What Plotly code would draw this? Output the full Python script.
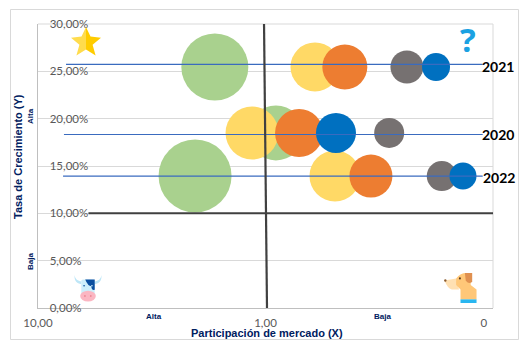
import base64
import plotly.graph_objects as go

# Bubble data, order: 2021, 2020, 2022
years = ["2021", "2020", "2022"]
y_series = [25.46, 18.49, 13.94]
green_x = [1.67, 0.90, 2.04]
green_s = [67, 55, 73]
yellow_x = [0.606, 1.146, 0.495]
yellow_s = [49, 53, 51]
orange_x = [0.448, 0.712, 0.344]
orange_s = [45, 48, 43]
gray_x = [0.239, 0.286, 0.168]
gray_s = [33, 30, 30]
blue_x = [0.178, 0.49, 0.1355]
blue_s = [28, 40, 27]

# Reference lines
year_line_y = [25.74, 18.33, 13.94]
year_line_x = [[7.53, 0.111], [7.69, 0.111], [7.76, 0.111]]
v_line_x = [1.015, 0.985]
v_line_y = [30, 0]
h_line_x = [6.0, 0.1]
h_line_y = [10, 10]

y_ticks = [0, 5, 10, 15, 20, 25, 30]
y_labels = ["0,00%", "5,00%", "10,00%", "15,00%", "20,00%", "25,00%", "30,00%"]
x_ticks = [10, 1, 0.1096]
x_labels = ["10,00", "1,00", "0"]

W, H = 532, 352
L, R, T, B = 38, 493, 24, 308


def px(x):
    return (x - L) / (R - L)


def py(y):
    return (B - y) / (B - T)


def uri(svg):
    return "data:image/svg+xml;base64," + base64.b64encode(svg.encode()).decode()


star = """<svg xmlns='http://www.w3.org/2000/svg' viewBox='0 0 100 100'>
<polygon points='50,0 50,78 18,98 28,61 0,37 35,33' fill='#FFDC4D'/>
<polygon points='50,0 50,78 82,98 72,61 100,37 65,33' fill='#FFCC00'/></svg>"""
cow = """<svg xmlns='http://www.w3.org/2000/svg' viewBox='0 0 100 100'>
<path d='M2,0 C4,16 14,22 26,24 L26,34 C10,32 0,20 2,0Z' fill='#BDE6F7'/>
<path d='M98,0 C96,16 86,22 74,24 L74,34 C90,32 100,20 98,0Z' fill='#BDE6F7'/>
<rect x='26' y='17' width='48' height='60' rx='6' fill='#CDEFFB'/>
<path d='M40,17 H74 V55 Q62,58 62,42 Q50,42 40,17Z' fill='#0A4FA0'/>
<circle cx='36' cy='40' r='3' fill='#0A4FA0'/><circle cx='64' cy='40' r='3' fill='#CDEFFB'/>
<ellipse cx='50' cy='78' rx='28' ry='20' fill='#FBB6C2'/>
<circle cx='39' cy='78' r='3' fill='#E5707F'/><circle cx='60' cy='78' r='3' fill='#E5707F'/></svg>"""
dog = """<svg xmlns='http://www.w3.org/2000/svg' viewBox='0 0 120 100'>
<path d='M5,25 L45,18 L55,55 L30,55 Q15,50 5,25Z' fill='#FFE0B2'/>
<path d='M45,18 Q60,0 80,0 L95,0 L95,40 L115,55 L115,88 L60,88 L60,55 L45,40Z' fill='#FFC778'/>
<path d='M75,0 H100 V30 Q85,38 78,25Z' fill='#E0904F'/>
<circle cx='58' cy='18' r='3.5' fill='#5A3A1E'/><circle cx='8' cy='25' r='4' fill='#8A5A2E'/>
<rect x='60' y='88' width='55' height='12' fill='#29B6F0'/></svg>"""


def icon(svg, x0, y0, x1, y1):
    return dict(source=uri(svg), xref="paper", yref="paper", x=px(x0), y=py(y0),
                sizex=(x1 - x0) / (R - L), sizey=(y1 - y0) / (B - T),
                xanchor="left", yanchor="top", sizing="stretch", layer="above")


fig = go.Figure()
for xs, ss, color in [
    (green_x, green_s, "#A9D18E"),
    (yellow_x, yellow_s, "#FFD966"),
    (orange_x, orange_s, "#ED7D31"),
    (gray_x, gray_s, "#767171"),
    (blue_x, blue_s, "#0070C0"),
]:
    fig.add_trace(go.Scatter(x=xs, y=y_series, mode="markers",
                             marker=dict(size=ss, color=color, opacity=1, line=dict(width=0))))
for lx, ly in zip(year_line_x, year_line_y):
    fig.add_trace(go.Scatter(x=lx, y=[ly, ly], mode="lines", line=dict(color="#3A6BBF", width=1.2)))
fig.add_trace(go.Scatter(x=h_line_x, y=h_line_y, mode="lines", line=dict(color="#404040", width=2), cliponaxis=False))
fig.add_trace(go.Scatter(x=v_line_x, y=v_line_y, mode="lines", line=dict(color="#404040", width=2.2)))

navy = "#002060"
ann = [
    dict(text="Tasa de Crecimiento (Y)", x=px(18), y=py(157), textangle=-90,
         font=dict(family="Liberation Sans", size=11, color=navy, weight="bold")),
    dict(text="Participación de mercado (X)", x=px(266.5), y=py(333),
         font=dict(family="Liberation Sans", size=11, color=navy, weight="bold")),
    dict(text="Alta", x=px(30), y=py(116), textangle=-90,
         font=dict(family="Liberation Sans", size=8, color=navy, weight="bold")),
    dict(text="Baja", x=px(30), y=py(262), textangle=-90,
         font=dict(family="Liberation Sans", size=8, color=navy, weight="bold")),
    dict(text="Alta", x=px(154), y=py(316.5),
         font=dict(family="Liberation Sans", size=8, color=navy, weight="bold")),
    dict(text="Baja", x=px(382), y=py(316),
         font=dict(family="Liberation Sans", size=8, color=navy, weight="bold")),
    dict(text="?", x=px(467.5), y=py(39),
         font=dict(family="Open Sans", size=33, color="#1BA1E2", weight="bold")),
]
for label, lx, ly in zip(years, [498, 498, 499], [66, 134, 177]):
    ann.append(dict(text=label, x=px(lx), y=py(ly),
                    font=dict(family="Lato", size=14, color="#000000", weight="bold")))
for a in ann:
    a.update(xref="paper", yref="paper", showarrow=False, xanchor="center", yanchor="middle")

fig.update_layout(
    width=W, height=H, showlegend=False,
    paper_bgcolor="white", plot_bgcolor="white",
    margin=dict(l=L, r=W - R, t=T, b=H - B, pad=0),
    xaxis=dict(type="log", range=[1, -1], tickvals=x_ticks, ticktext=x_labels,
               showgrid=False, zeroline=False, showline=True, linecolor="#BFBFBF", linewidth=1,
               ticks="outside", ticklen=4, tickcolor="rgba(0,0,0,0)", ticklabeloverflow="allow",
               tickfont=dict(family="Lato", size=11.5, color="#595959")),
    yaxis=dict(range=[0, 30], tickvals=y_ticks, ticktext=y_labels,
               showgrid=True, gridcolor="#D9D9D9", gridwidth=1, zeroline=False,
               showline=True, linecolor="#BFBFBF", linewidth=1,
               ticks="inside", ticklen=11, tickcolor="rgba(0,0,0,0)", ticklabelposition="inside",
               ticklabeloverflow="allow",
               tickfont=dict(family="Lato", size=11.5, color="#595959")),
    annotations=ann,
    images=[icon(star, 71, 27, 101, 56), icon(cow, 74, 275, 102, 302), icon(dog, 443, 273, 478, 303)],
    shapes=[
        dict(type="rect", xref="paper", yref="paper", x0=px(10.5), x1=px(518.5), y0=py(339.5), y1=py(9.5),
             line=dict(color="#D9D9D9", width=1), layer="above"),
        dict(type="line", xref="paper", yref="paper", x0=1, x1=1, y0=0, y1=1,
             line=dict(color="#D9D9D9", width=1), layer="below"),
        dict(type="line", xref="paper", yref="paper", x0=0, x1=1, y0=1, y1=1,
             line=dict(color="#D9D9D9", width=1), layer="below"),
    ],
)
fig.write_html("out.html", config=dict(displayModeBar=False), post_script="document.body.style.margin='0';")
